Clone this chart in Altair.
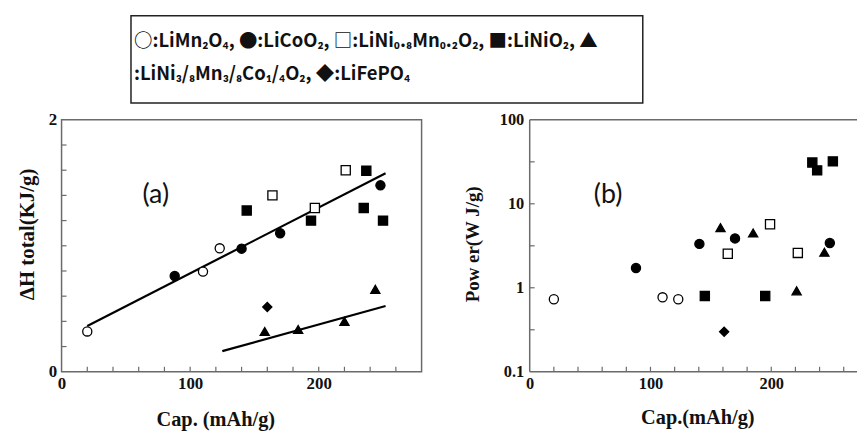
import altair as alt
import pandas as pd

# ---------------- data ----------------
names = ["LiMn2O4", "LiCoO2", "LiNi0.8Mn0.2O2", "LiNiO2", "LiNi3/8Mn3/8Co1/4O2", "LiFePO4"]
shapes = ["circle", "circle", "square", "square", "triangle-up", "diamond"]
fills = ["white", "black", "white", "black", "black", "black"]

# panel (a): total heat vs capacity
a_mn_x = [20, 110, 123];            a_mn_y = [0.32, 0.795, 0.98]
a_co_x = [88, 140, 170, 248];       a_co_y = [0.76, 0.977, 1.10, 1.48]
a_nm_x = [164, 197, 221];           a_nm_y = [1.40, 1.30, 1.60]
a_ni_x = [144, 194, 235, 237, 250]; a_ni_y = [1.28, 1.20, 1.30, 1.595, 1.20]
a_nmc_x = [158, 184, 220, 244];     a_nmc_y = [0.32, 0.336, 0.40, 0.654]
a_fp_x = [160];                     a_fp_y = [0.514]
fit1_x = [20, 252];  fit1_y = [0.363, 1.576]
fit2_x = [125, 252]; fit2_y = [0.164, 0.522]

# panel (b): power vs capacity
b_mn_x = [20, 110, 123];            b_mn_y = [0.73, 0.77, 0.73]
b_co_x = [88, 140.5, 170, 248.5];   b_co_y = [1.72, 3.33, 3.87, 3.41]
b_nm_x = [164, 199, 222];           b_nm_y = [2.54, 5.7, 2.6]
b_ni_x = [145, 195, 234, 238, 251]; b_ni_y = [0.80, 0.80, 31, 25, 32]
b_nmc_x = [158, 185, 221, 244];     b_nmc_y = [5.2, 4.5, 0.92, 2.65]
b_fp_x = [161];                     b_fp_y = [0.30]

a_xlabels = [0, 100, 200]
a_ylabels = [0, 1, 2]
a_xminor = [20, 40, 60, 80, 100, 120, 140, 160, 180, 200, 220, 240, 260]
a_yminor = [0.2, 0.4, 0.6, 0.8, 1.0, 1.2, 1.4, 1.6, 1.8]
b_xlabels = [0, 100, 200]
b_ylabels = [0.1, 1, 10, 100]
b_xminor = [20, 40, 60, 80, 100, 120, 140, 160, 180, 200, 220, 240, 260]
b_yminor = [0.316, 1, 3.16, 10, 31.6]

legend_line1 = "○:LiMn₂O₄, ●:LiCoO₂, □:LiNi₀.₈Mn₀.₂O₂, ■:LiNiO₂, ▲"
legend_line2 = ":LiNi₃/₈Mn₃/₈Co₁/₄O₂, ◆:LiFePO₄"


def table(xs_list, ys_list):
    rows = []
    for name, xs, ys in zip(names, xs_list, ys_list):
        for x, y in zip(xs, ys):
            rows.append({"cap": x, "val": y, "mat": name})
    return pd.DataFrame(rows)


a_df = table([a_mn_x, a_co_x, a_nm_x, a_ni_x, a_nmc_x, a_fp_x],
             [a_mn_y, a_co_y, a_nm_y, a_ni_y, a_nmc_y, a_fp_y])
b_df = table([b_mn_x, b_co_x, b_nm_x, b_ni_x, b_nmc_x, b_fp_x],
             [b_mn_y, b_co_y, b_nm_y, b_ni_y, b_nmc_y, b_fp_y])
fit_df = pd.DataFrame({"cap": fit1_x + fit2_x, "val": fit1_y + fit2_y,
                       "fit": ["1", "1", "2", "2"]})

FRAME = "#6a6a6a"
SERIF = "Liberation Serif"
SANS = "Lato"
LEGFONT = "'Noto Sans CJK JP', Lato, 'DejaVu Sans'"

AW, AH = 363, 254
BW, BH = 330, 254
one = pd.DataFrame({"k": [0]})

label_style = dict(labelFont=SERIF, labelFontWeight="bold",
                   labelColor="#111", titleFont=SERIF, titleFontWeight="bold",
                   titleColor="#111", domain=False, ticks=False,
                   grid=False, labelFlush=False, labelOverlap=False)

# ---------------- panel (a) ----------------
ax = alt.X("cap:Q", scale=alt.Scale(domain=[0, 280], nice=False, zero=False),
           axis=alt.Axis(values=a_xlabels, format="d", title="Cap. (mAh/g)",
                         labelPadding=4, labelFontSize=17, titleX=155, titleY=48,
                         titleBaseline="middle", titleAlign="center", titleFontSize=20.5,
                         **label_style))
ay = alt.Y("val:Q", scale=alt.Scale(domain=[0, 2], nice=False, zero=False),
           axis=alt.Axis(values=a_ylabels, format="d", title="ΔH total(KJ/g)",
                         labelPadding=5, labelFontSize=17, titleX=-34, titleY=115,
                         titleBaseline="middle", titleAlign="center", titleAngle=270,
                         titleFontSize=21, **label_style))

sym_enc = dict(
    shape=alt.Shape("mat:N", scale=alt.Scale(domain=names, range=shapes), legend=None),
    fill=alt.Fill("mat:N", scale=alt.Scale(domain=names, range=fills), legend=None),
    size=alt.Size("mat:N", scale=alt.Scale(domain=names, range=[85, 85, 100, 100, 80, 70]),
                  legend=None),
)

a_frame = alt.Chart(one).mark_rect(fillOpacity=0, stroke=FRAME, strokeWidth=1.5).encode(
    x=alt.value(0), x2=alt.value(AW), y=alt.value(0), y2=alt.value(AH))
a_xt = alt.Chart(pd.DataFrame({"cap": a_xminor})).mark_rule(color=FRAME, strokeWidth=1.2).encode(
    x=ax, y=alt.value(AH), y2=alt.value(AH - 5))
a_yt = alt.Chart(pd.DataFrame({"val": a_yminor})).mark_rule(color=FRAME, strokeWidth=1.2).encode(
    y=ay, x=alt.value(0), x2=alt.value(5))
a_fit = alt.Chart(fit_df).mark_line(color="black", strokeWidth=2.2).encode(
    x=ax, y=ay, detail="fit:N")
a_pts = alt.Chart(a_df).mark_point(filled=True, stroke="black", strokeWidth=1.3, opacity=1).encode(
    x=ax, y=ay, **sym_enc)
a_lab = alt.Chart(one).mark_text(text="(a)", font=SANS, fontSize=27, color="#111",
                                 align="center", baseline="middle").encode(
    x=alt.value(95), y=alt.value(76))
leg_box = alt.Chart(one).mark_rect(fill="white", stroke="#222", strokeWidth=1.5).encode(
    x=alt.value(70), x2=alt.value(586), y=alt.value(-105), y2=alt.value(-17))
leg_t1 = alt.Chart(one).mark_text(text=legend_line1, font=LEGFONT, fontWeight="bold",
                                  fontSize=18.6, color="#111", align="left",
                                  baseline="middle").encode(
    x=alt.value(73), y=alt.value(-79))
leg_t2 = alt.Chart(one).mark_text(text=legend_line2, font=LEGFONT, fontWeight="bold",
                                  fontSize=18.6, color="#111", align="left",
                                  baseline="middle").encode(
    x=alt.value(73), y=alt.value(-46))

panel_a = alt.layer(a_frame, a_xt, a_yt, a_fit, a_pts, a_lab, leg_box, leg_t1, leg_t2).properties(
    width=AW, height=AH)

# ---------------- panel (b) ----------------
bx = alt.X("cap:Q", scale=alt.Scale(domain=[0, 271], nice=False, zero=False),
           axis=alt.Axis(values=b_xlabels, format="d", title="Cap.(mAh/g)",
                         labelPadding=4, labelFontSize=16.5, titleX=169, titleY=46,
                         titleBaseline="middle", titleAlign="center", titleFontSize=20.5,
                         **label_style))
by = alt.Y("val:Q", scale=alt.Scale(type="log", domain=[0.1, 100], nice=False),
           axis=alt.Axis(values=b_ylabels, format="~g", title="Pow er(W J/g)",
                         labelPadding=6, labelFontSize=16.5, titleX=-58, titleY=125,
                         titleBaseline="middle", titleAlign="center", titleAngle=270,
                         titleFontSize=19, **label_style))

b_top = alt.Chart(one).mark_rule(color=FRAME, strokeWidth=1.5).encode(
    x=alt.value(0), x2=alt.value(BW), y=alt.value(0))
b_bot = alt.Chart(one).mark_rule(color=FRAME, strokeWidth=1.5).encode(
    x=alt.value(0), x2=alt.value(BW), y=alt.value(BH))
b_left = alt.Chart(one).mark_rule(color=FRAME, strokeWidth=1.5).encode(
    x=alt.value(0), y=alt.value(0), y2=alt.value(BH))
b_xt = alt.Chart(pd.DataFrame({"cap": b_xminor})).mark_rule(color=FRAME, strokeWidth=1.2).encode(
    x=bx, y=alt.value(BH), y2=alt.value(BH - 5))
b_yt = alt.Chart(pd.DataFrame({"val": b_yminor})).mark_rule(color=FRAME, strokeWidth=1.2).encode(
    y=by, x=alt.value(0), x2=alt.value(5))
b_pts = alt.Chart(b_df).mark_point(filled=True, stroke="black", strokeWidth=1.3, opacity=1).encode(
    x=bx, y=by, **sym_enc)
b_lab = alt.Chart(one).mark_text(text="(b)", font=SANS, fontSize=27, color="#111",
                                 align="center", baseline="middle").encode(
    x=alt.value(79), y=alt.value(76))

panel_b = alt.layer(b_top, b_bot, b_left, b_xt, b_yt, b_pts, b_lab).properties(
    width=BW, height=BH)

chart = alt.hconcat(panel_a, panel_b, spacing=109, bounds="flush").properties(
    padding={"left": 9, "top": 5, "right": 0, "bottom": 0},
    background="white",
).configure_view(stroke=None)

chart.save("out.html", embed_options={"renderer": "svg", "actions": False})
